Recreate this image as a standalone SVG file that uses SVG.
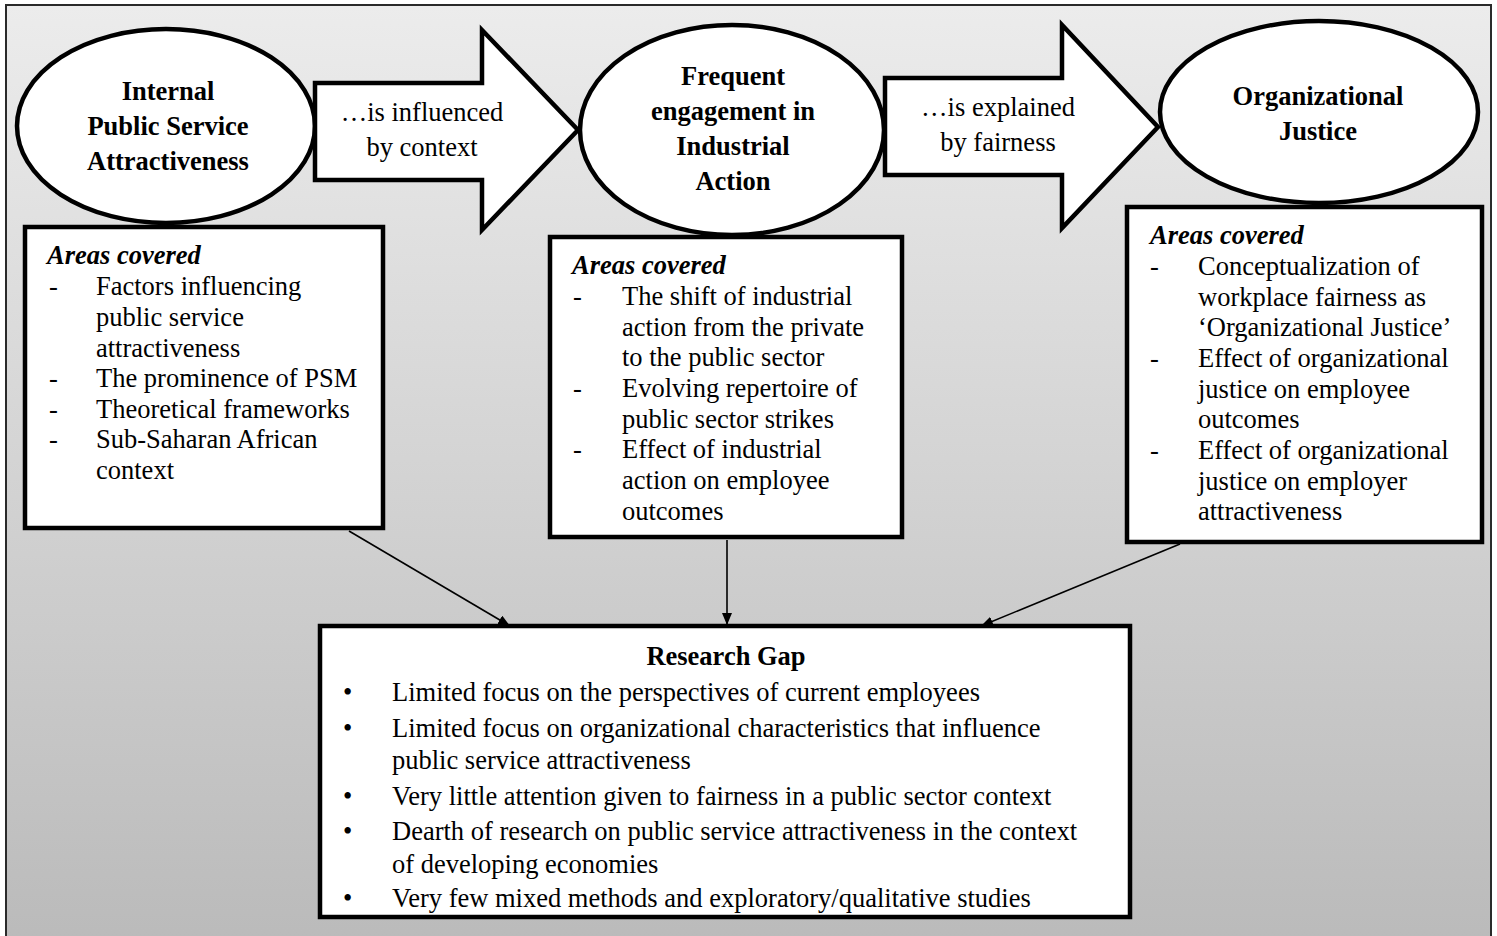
<svg xmlns="http://www.w3.org/2000/svg" width="1497" height="936" viewBox="0 0 1497 936">
  <defs>
    <linearGradient id="bg" x1="0" y1="0" x2="0" y2="1">
      <stop offset="0" stop-color="#ececec"/>
      <stop offset="1" stop-color="#bababa"/>
    </linearGradient>
    <marker id="head" viewBox="0 0 12 10" refX="12" refY="5" markerWidth="12" markerHeight="10" markerUnits="userSpaceOnUse" orient="auto">
      <path d="M0,0 L12,5 L0,10 Z" fill="#000"/>
    </marker>
    <style>
      .shape { fill: #fff; stroke: #000; stroke-width: 4.5; }
      .t { font-family: "Liberation Serif", "Times New Roman", serif; font-size: 26.5px; fill: #000; }
      .b { font-weight: bold; }
      .bi { font-weight: bold; font-style: italic; }
      .c { text-anchor: middle; }
      .link { stroke: #000; stroke-width: 1.6; fill: none; marker-end: url(#head); }
    </style>
  </defs>

  <!-- framed panel -->
  <rect x="6" y="5" width="1485" height="945" fill="url(#bg)" stroke="#2a2a2a" stroke-width="2"/>

  <!-- concept ellipses -->
  <g id="node-psa">
    <ellipse class="shape" cx="166" cy="126" rx="149" ry="97"/>
    <text class="t b c" x="168" y="100">Internal</text>
    <text class="t b c" x="168" y="135">Public Service</text>
    <text class="t b c" x="168" y="170">Attractiveness</text>
  </g>

  <g id="node-industrial">
    <ellipse class="shape" cx="732" cy="130" rx="152" ry="105"/>
    <text class="t b c" x="733" y="85">Frequent</text>
    <text class="t b c" x="733" y="120">engagement in</text>
    <text class="t b c" x="733" y="155">Industrial</text>
    <text class="t b c" x="733" y="190">Action</text>
  </g>

  <g id="node-justice">
    <ellipse class="shape" cx="1319" cy="112" rx="159" ry="91"/>
    <text class="t b c" x="1318" y="105">Organizational</text>
    <text class="t b c" x="1318" y="140">Justice</text>
  </g>

  <!-- block arrows between concepts -->
  <g id="arrow-context">
    <polygon class="shape" points="315,83 482,83 482,30 578,130 482,230 482,180 315,180"/>
    <text class="t c" x="422" y="121">…is influenced</text>
    <text class="t c" x="422" y="156">by context</text>
  </g>

  <g id="arrow-fairness">
    <polygon class="shape" points="885,78 1062,78 1062,25 1158,127 1062,228 1062,175 885,175"/>
    <text class="t c" x="998" y="116">…is explained</text>
    <text class="t c" x="998" y="151">by fairness</text>
  </g>

  <!-- areas covered boxes -->
  <g id="box-psa">
    <rect class="shape" x="25" y="227" width="358" height="301"/>
    <text class="t bi" x="47" y="264">Areas covered</text>
    <text class="t" x="49" y="295">-</text>
    <text class="t" x="96" y="295">Factors influencing</text>
    <text class="t" x="96" y="326">public service</text>
    <text class="t" x="96" y="357">attractiveness</text>
    <text class="t" x="49" y="387">-</text>
    <text class="t" x="96" y="387">The prominence of PSM</text>
    <text class="t" x="49" y="418">-</text>
    <text class="t" x="96" y="418">Theoretical frameworks</text>
    <text class="t" x="49" y="448">-</text>
    <text class="t" x="96" y="448">Sub-Saharan African</text>
    <text class="t" x="96" y="479">context</text>
  </g>

  <g id="box-industrial">
    <rect class="shape" x="550" y="237" width="352" height="300"/>
    <text class="t bi" x="572" y="274">Areas covered</text>
    <text class="t" x="573" y="305">-</text>
    <text class="t" x="622" y="305">The shift of industrial</text>
    <text class="t" x="622" y="336">action from the private</text>
    <text class="t" x="622" y="366">to the public sector</text>
    <text class="t" x="573" y="397">-</text>
    <text class="t" x="622" y="397">Evolving repertoire of</text>
    <text class="t" x="622" y="428">public sector strikes</text>
    <text class="t" x="573" y="458">-</text>
    <text class="t" x="622" y="458">Effect of industrial</text>
    <text class="t" x="622" y="489">action on employee</text>
    <text class="t" x="622" y="520">outcomes</text>
  </g>

  <g id="box-justice">
    <rect class="shape" x="1127" y="207" width="355" height="335"/>
    <text class="t bi" x="1150" y="244">Areas covered</text>
    <text class="t" x="1150" y="275">-</text>
    <text class="t" x="1198" y="275">Conceptualization of</text>
    <text class="t" x="1198" y="306">workplace fairness as</text>
    <text class="t" x="1198" y="336">‘Organizational Justice’</text>
    <text class="t" x="1150" y="367">-</text>
    <text class="t" x="1198" y="367">Effect of organizational</text>
    <text class="t" x="1198" y="398">justice on employee</text>
    <text class="t" x="1198" y="428">outcomes</text>
    <text class="t" x="1150" y="459">-</text>
    <text class="t" x="1198" y="459">Effect of organizational</text>
    <text class="t" x="1198" y="490">justice on employer</text>
    <text class="t" x="1198" y="520">attractiveness</text>
  </g>

  <!-- research gap summary -->
  <g id="box-gap">
    <rect class="shape" x="320" y="626" width="810" height="291"/>
    <text class="t b c" x="726" y="665">Research Gap</text>
    <text class="t" x="343" y="701">•</text>
    <text class="t" x="392" y="701">Limited focus on the perspectives of current employees</text>
    <text class="t" x="343" y="737">•</text>
    <text class="t" x="392" y="737">Limited focus on organizational characteristics that influence</text>
    <text class="t" x="392" y="769">public service attractiveness</text>
    <text class="t" x="343" y="805">•</text>
    <text class="t" x="392" y="805">Very little attention given to fairness in a public sector context</text>
    <text class="t" x="343" y="840">•</text>
    <text class="t" x="392" y="840">Dearth of research on public service attractiveness in the context</text>
    <text class="t" x="392" y="873">of developing economies</text>
    <text class="t" x="343" y="907">•</text>
    <text class="t" x="392" y="907">Very few mixed methods and exploratory/qualitative studies</text>
  </g>

  <!-- connectors into the research gap -->
  <g id="connectors">
    <line class="link" x1="349" y1="531" x2="510" y2="626"/>
    <line class="link" x1="727" y1="540" x2="727" y2="625"/>
    <line class="link" x1="1180" y1="544" x2="981" y2="626"/>
  </g>
</svg>
